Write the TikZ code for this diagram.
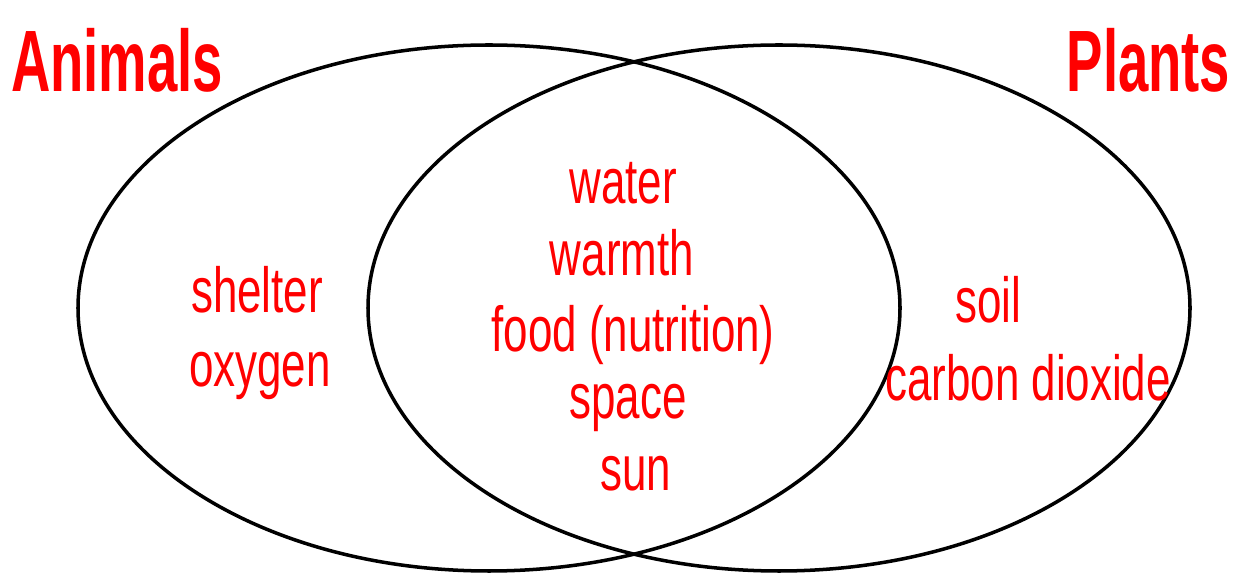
\documentclass[tikz,border=0pt]{standalone}
\usepackage{fontspec}
\setmainfont{Liberation Sans}
\usepackage{xcolor}
\usepackage{tikz}
\definecolor{cRed}{HTML}{FF0000}
\definecolor{cInk}{HTML}{000000}
\tikzset{
  setline/.style={draw=cInk,line width=2pt},
  need/.style={text=cRed,font=\fontsize{25}{30}\selectfont,inner sep=0pt,yscale=1.45,transform shape},
  title/.style={text=cRed,font=\fontsize{31}{38}\selectfont\bfseries,inner sep=0pt,yscale=1.6,transform shape},
}

\begin{document}
\begin{tikzpicture}[x=1cm,y=1cm]
    \useasboundingbox (0,0) rectangle (24.88,11.46);
    % the two sets
    \draw[setline] (9.78,5.3) ellipse [x radius=8.22, y radius=5.26];
    \draw[setline] (15.58,5.3) ellipse [x radius=8.22, y radius=5.26];
    \node[title] (tAnimals) at (2.34,10.26) {Animals};
    \node[title] (tPlants)  at (22.97,10.26) {Plants};
    % animals only
    \node[need] (shelter) at (5.14,5.66) {shelter};
    \node[need] (oxygen)  at (5.2,3.94)  {oxygen};
    % both
    \node[need] (water)  at (12.46,7.8)  {water};
    \node[need] (warmth) at (12.44,6.4)  {warmth};
    \node[need] (food)   at (12.66,4.76) {food (nutrition)};
    \node[need] (space)  at (12.56,3.3)  {space};
    \node[need] (sun)    at (12.72,1.98) {sun};
    % plants only
    \node[need] (soil)   at (19.76,5.46) {soil};
    \node[need] (carbon) at (20.56,3.9)  {carbon dioxide};
\end{tikzpicture}
\end{document}
